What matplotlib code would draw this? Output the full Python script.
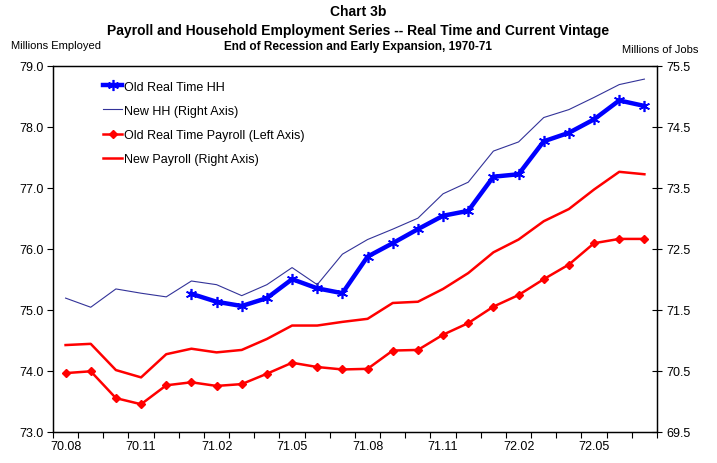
import numpy as np
import matplotlib
matplotlib.use("Agg")
import matplotlib.pyplot as plt
from matplotlib.ticker import FixedLocator, FormatStrFormatter

plt.rcParams['font.family'] = ['Liberation Sans', 'DejaVu Sans']

# months on the category axis
months = ["70.08", "70.09", "70.10", "70.11", "70.12", "71.01", "71.02", "71.03",
          "71.04", "71.05", "71.06", "71.07", "71.08", "71.09", "71.10", "71.11",
          "71.12", "72.01", "72.02", "72.03", "72.04", "72.05", "72.06", "72.07"]

# left axis (millions employed)
old_hh = [None, None, None, None, None, 75.26, 75.13, 75.06, 75.19, 75.50, 75.35, 75.27,
          75.87, 76.09, 76.32, 76.54, 76.62, 77.18, 77.22, 77.76, 77.90, 78.12, 78.43, 78.34]
old_payroll = [73.96, 73.99, 73.55, 73.45, 73.76, 73.81, 73.75, 73.78, 73.95, 74.13, 74.06, 74.02,
               74.03, 74.33, 74.34, 74.59, 74.78, 75.05, 75.24, 75.50, 75.74, 76.09, 76.16, 76.16]

# right axis (millions of jobs)
new_hh = [71.69, 71.54, 71.84, 71.77, 71.71, 71.97, 71.91, 71.73, 71.91, 72.19, 71.91, 72.41,
          72.65, 72.82, 73.00, 73.40, 73.59, 74.10, 74.25, 74.65, 74.78, 74.98, 75.19, 75.28]
new_payroll = [70.92, 70.94, 70.51, 70.39, 70.77, 70.86, 70.80, 70.84, 71.02, 71.24, 71.24, 71.30,
               71.35, 71.61, 71.63, 71.84, 72.10, 72.44, 72.65, 72.95, 73.15, 73.47, 73.76, 73.72]

x = np.arange(len(months))
old_hh_arr = np.array([np.nan if v is None else v for v in old_hh])

fig = plt.figure(figsize=(7.17, 4.64), dpi=100)
ax = fig.add_axes([0.0739, 0.0675, 0.8424, 0.7888])
ax2 = ax.twinx()

l1, = ax.plot(x, old_hh_arr, color="#0000FF", linewidth=3.2, marker=(6, 2, 0),
              markersize=8, markeredgewidth=1.2, label="Old Real Time HH")
l3, = ax.plot(x, old_payroll, color="#FF0000", linewidth=1.8, marker="D",
              markersize=4.5, label="Old Real Time Payroll (Left Axis)")
l2, = ax2.plot(x, new_hh, color="#333399", linewidth=0.8, label="New HH (Right Axis)")
l4, = ax2.plot(x, new_payroll, color="#FF0000", linewidth=1.8, label="New Payroll (Right Axis)")

ax.set_xlim(-0.5, len(months) - 0.5)
ax.set_ylim(73.0, 79.0)
ax2.set_ylim(69.5, 75.5)
ax.set_yticks(np.arange(73.0, 79.01, 1.0))
ax2.set_yticks(np.arange(69.5, 75.51, 1.0))
ax.yaxis.set_major_formatter(FormatStrFormatter("%.1f"))
ax2.yaxis.set_major_formatter(FormatStrFormatter("%.1f"))

ax.set_xticks(x[::3])
ax.set_xticklabels(months[::3])
ax.xaxis.set_minor_locator(FixedLocator(np.arange(-0.5, len(months), 1.0)))
ax.tick_params(axis="x", which="major", length=0, labelsize=9, pad=6)
ax.tick_params(axis="x", which="minor", length=4, width=0.8, direction="out")
ax.tick_params(axis="y", length=4, width=0.8, direction="out", labelsize=9, pad=3)
ax2.tick_params(axis="y", length=7, width=0.8, direction="inout", labelsize=9, pad=3)

for a in (ax, ax2):
    for s in a.spines.values():
        s.set_linewidth(0.9)

ax2.legend([l1, l2, l3, l4], [h.get_label() for h in (l1, l2, l3, l4)],
           loc="upper left", bbox_to_anchor=(0.065, 0.99), frameon=False,
           fontsize=9, labelspacing=0.98, handlelength=1.5, handletextpad=0.15)

fig.text(0.5, 0.974, "Chart 3b", ha="center", va="center", fontsize=10, fontweight="bold")
fig.text(0.5, 0.933, "Payroll and Household Employment Series -- Real Time and Current Vintage",
         ha="center", va="center", fontsize=10, fontweight="bold")
fig.text(0.5, 0.898, "End of Recession and Early Expansion, 1970-71",
         ha="center", va="center", fontsize=8.5, fontweight="bold")
fig.text(0.016, 0.900, "Millions Employed", ha="left", va="center", fontsize=8)
fig.text(0.974, 0.893, "Millions of Jobs", ha="right", va="center", fontsize=8)

fig.savefig("out.png", dpi=100)
